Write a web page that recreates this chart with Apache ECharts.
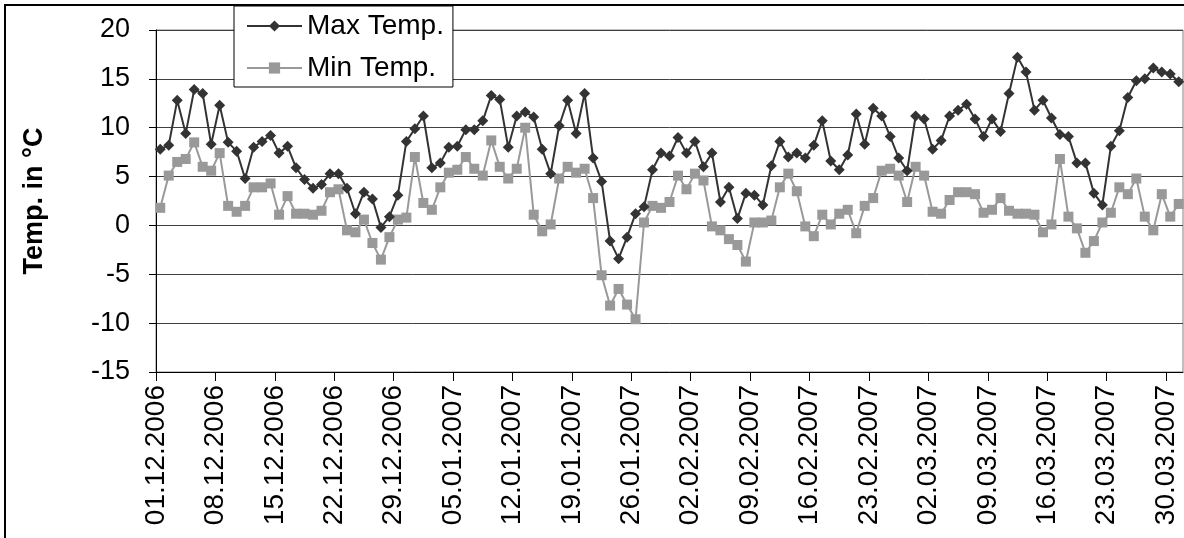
<!DOCTYPE html>
<html>
<head>
<meta charset="utf-8">
<script src="https://cdn.jsdelivr.net/npm/echarts@6/dist/echarts.min.js"></script>
<style>
html,body{margin:0;padding:0;background:#fff;}
#chart{width:1184px;height:538px;}
</style>
</head>
<body>
<div id="chart"></div>
<script>
// Day index 0 = 01.12.2006 ... 120 = 31.03.2007
const tickLabels = ['01.12.2006','08.12.2006','15.12.2006','22.12.2006','29.12.2006','05.01.2007','12.01.2007','19.01.2007','26.01.2007','02.02.2007','09.02.2007','16.02.2007','23.02.2007','02.03.2007','09.03.2007','16.03.2007','23.03.2007','30.03.2007'];
const yTicks = [-15,-10,-5,0,5,10,15,20];

const maxTemp = [7.8,8.2,12.8,9.4,13.9,13.5,8.3,12.3,8.5,7.6,4.8,8.0,8.6,9.2,7.4,8.1,5.9,4.7,3.8,4.2,
5.3,5.3,3.8,1.2,3.4,2.7,-0.2,0.9,3.1,8.6,9.9,11.2,5.9,6.4,8.0,8.1,9.8,9.8,10.7,13.3,
12.9,8.0,11.2,11.6,11.1,7.8,5.3,10.2,12.8,9.4,13.5,6.9,4.5,-1.6,-3.4,-1.2,1.2,1.9,5.7,7.4,
7.1,9.0,7.4,8.6,6.0,7.4,2.4,3.9,0.7,3.3,3.1,2.1,6.1,8.6,7.0,7.4,6.9,8.2,10.7,6.6,
5.7,7.2,11.4,8.3,12.0,11.2,9.1,6.9,5.6,11.2,10.9,7.8,8.7,11.2,11.8,12.4,10.9,9.1,10.9,9.6,
13.5,17.2,15.7,11.8,12.8,11.0,9.3,9.1,6.4,6.4,3.3,2.1,8.1,9.7,13.1,14.8,15.0,16.1,15.7,15.5,
14.7];

const minTemp = [1.8,5.1,6.5,6.8,8.5,6.0,5.6,7.4,2.0,1.4,2.0,3.9,3.9,4.3,1.1,3.0,1.2,1.2,1.1,1.5,
3.4,3.7,-0.5,-0.7,0.6,-1.8,-3.5,-1.2,0.6,0.8,7.0,2.3,1.6,3.9,5.4,5.7,7.0,5.8,5.1,8.7,
6.0,4.8,5.8,10.0,1.1,-0.6,0.1,4.8,6.0,5.4,5.8,2.8,-5.1,-8.2,-6.5,-8.1,-9.6,0.3,2.0,1.8,
2.4,5.1,3.7,5.3,4.6,-0.1,-0.5,-1.4,-2.0,-3.7,0.3,0.3,0.5,3.9,5.3,3.5,-0.1,-1.1,1.1,0.1,
1.2,1.6,-0.8,2.0,2.8,5.6,5.8,5.1,2.4,6.0,5.1,1.4,1.2,2.6,3.4,3.4,3.2,1.3,1.6,2.8,
1.5,1.2,1.2,1.1,-0.7,0.1,6.8,0.9,-0.3,-2.8,-1.6,0.3,1.3,3.9,3.2,4.8,0.9,-0.5,3.2,0.9,
2.2];

const nDays = maxTemp.length;
const FONT = '"Liberation Sans", Arial, sans-serif';

const toPoints = arr => arr.map((v, i) => [i + 0.5, v]);

const chart = echarts.init(document.getElementById('chart'), null, {renderer: 'canvas'});
chart.setOption({
  animation: false,
  backgroundColor: '#fff',
  textStyle: {fontFamily: FONT},
  graphic: [{
    type: 'rect', z: 0, silent: true,
    shape: {x: 5, y: 5, width: 1300, height: 700},
    style: {fill: 'none', stroke: '#000', lineWidth: 2}
  }],
  grid: {
    left: 156, right: 1, top: 30, bottom: 166,
    show: true, borderColor: '#808080', borderWidth: 1, backgroundColor: 'transparent'
  },
  legend: {
    data: ['Max Temp.', 'Min Temp.'],
    orient: 'vertical',
    left: 234, top: 6,
    padding: [6, 9, 5, 12],
    itemWidth: 55, itemHeight: 14, itemGap: 14,
    backgroundColor: '#fff', borderColor: '#000', borderWidth: 1,
    textStyle: {fontSize: 28, color: '#000', fontFamily: FONT}
  },
  xAxis: {
    type: 'value', min: 0, max: nDays, interval: 7,
    axisLine: {onZero: false, lineStyle: {color: '#000', width: 1}},
    axisTick: {show: true, length: 9, inside: false, lineStyle: {color: '#000'}},
    splitLine: {show: false},
    axisLabel: {
      rotate: 90, margin: 13, fontSize: 28, color: '#000', fontFamily: FONT,
      showMaxLabel: false,
      formatter: v => (v % 7 === 0 && tickLabels[v / 7]) ? tickLabels[v / 7] : ''
    }
  },
  yAxis: {
    type: 'value', min: yTicks[0], max: yTicks[yTicks.length - 1], interval: 5,
    name: 'Temp. in °C', nameLocation: 'middle', nameGap: 108,
    nameTextStyle: {fontSize: 27, fontWeight: 'bold', color: '#000', fontFamily: FONT},
    axisLine: {show: true, lineStyle: {color: '#000', width: 1}},
    axisTick: {show: true, length: 7, lineStyle: {color: '#000'}},
    splitLine: {show: true, lineStyle: {color: '#404040', width: 1}},
    axisLabel: {margin: 26, fontSize: 27, color: '#000', fontFamily: FONT}
  },
  series: [
    {
      name: 'Max Temp.', type: 'line', data: toPoints(maxTemp),
      symbol: 'diamond', symbolSize: 11, showAllSymbol: true,
      itemStyle: {color: '#333333'},
      lineStyle: {color: '#333333', width: 2},
      z: 3
    },
    {
      name: 'Min Temp.', type: 'line', data: toPoints(minTemp),
      symbol: 'rect', symbolSize: 10, showAllSymbol: true,
      itemStyle: {color: '#999999'},
      lineStyle: {color: '#999999', width: 2},
      z: 2
    }
  ]
});
</script>
</body>
</html>
